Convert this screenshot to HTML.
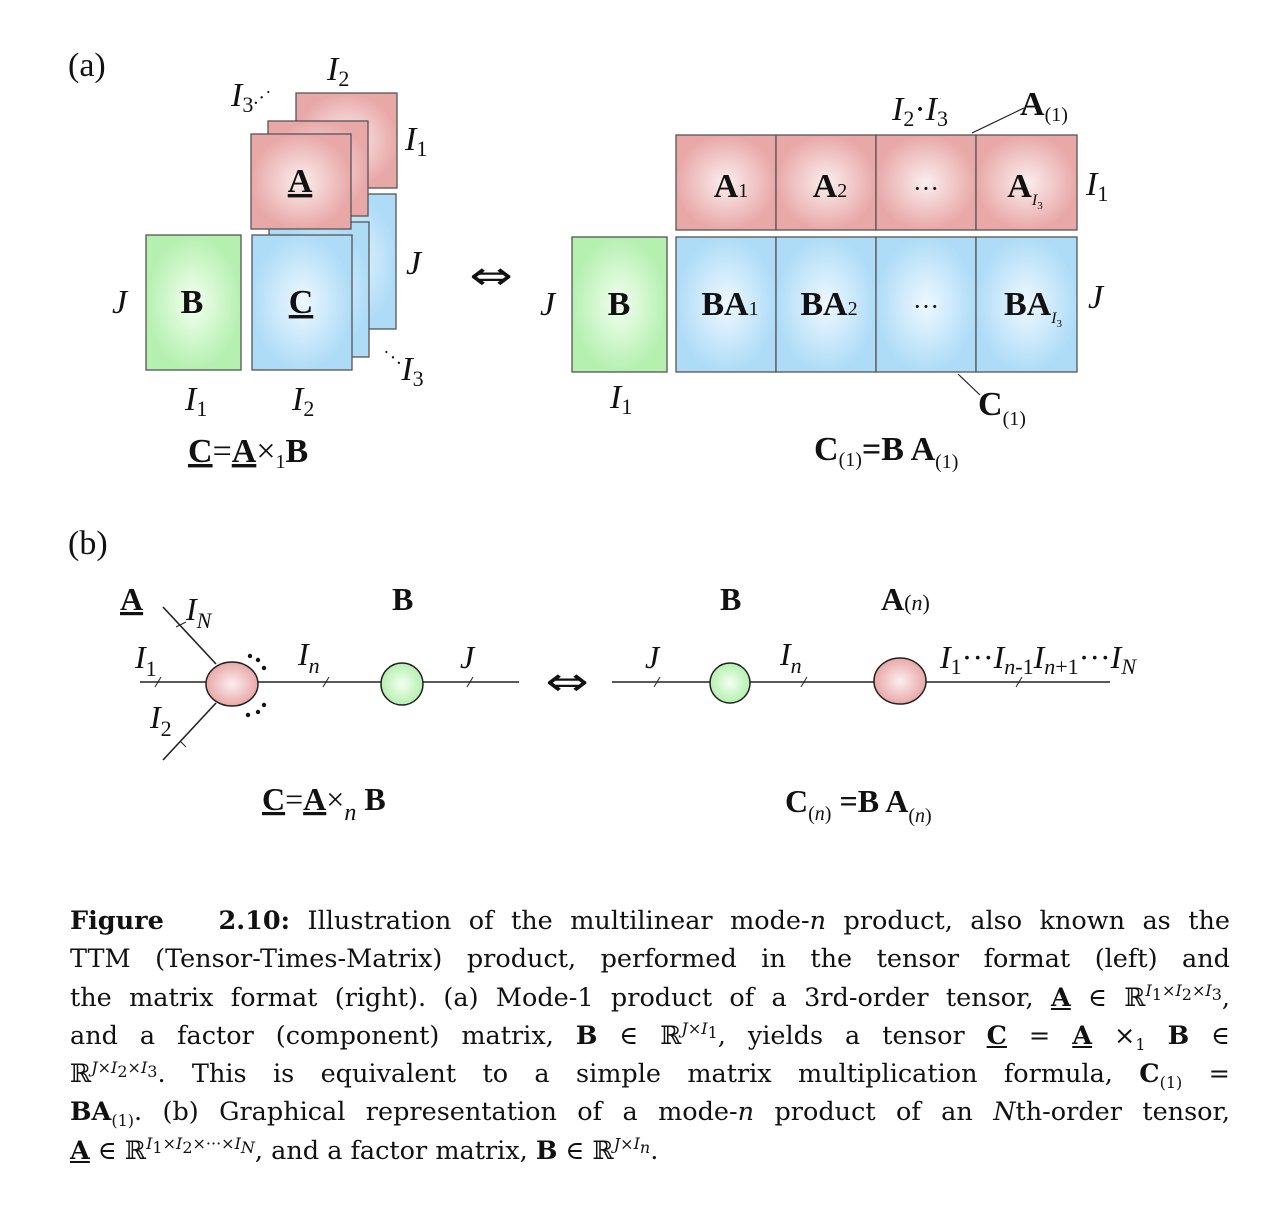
<!DOCTYPE html>
<html><head><meta charset="utf-8"><style>
body{margin:0;background:#fff;width:1276px;height:1208px;position:relative;overflow:hidden;font-family:"Liberation Serif",serif}
svg{position:absolute;left:0;top:0}
.cap{position:absolute;left:70px;width:1160px;font-family:"DejaVu Serif",serif;font-size:25.5px;line-height:38.3px;color:#111}
.cap div{text-align:justify;text-align-last:justify;white-space:nowrap;height:38.3px}
.cap div.last{text-align-last:left}
sup,sub{font-size:16px;line-height:0}
i{font-style:italic}
</style></head><body>
<svg width="1276" height="900" viewBox="0 0 1276 900" font-family="Liberation Serif, serif">
<defs>
<radialGradient id="pk"><stop offset="0" stop-color="#fbeeee"/><stop offset="1" stop-color="#e9a8a8"/></radialGradient>
<radialGradient id="bl"><stop offset="0" stop-color="#eef8ff"/><stop offset="1" stop-color="#aedcf7"/></radialGradient>
<radialGradient id="gr"><stop offset="0" stop-color="#f3fff0"/><stop offset="1" stop-color="#b5f0b0"/></radialGradient>
</defs>
<g font-size="34" fill="#111">
<text x="68" y="76">(a)</text>
<text x="68" y="554">(b)</text>
</g>
<g stroke="#555" stroke-width="1.3">
<rect x="296" y="194" width="100" height="135" fill="url(#bl)"/>
<rect x="269" y="222" width="100" height="135" fill="url(#bl)"/>
<rect x="296" y="93" width="101" height="95" fill="url(#pk)"/>
<rect x="268" y="121" width="100" height="95" fill="url(#pk)"/>
<rect x="251" y="134" width="100" height="95" fill="url(#pk)"/>
<rect x="252" y="235" width="100" height="135" fill="url(#bl)"/>
<rect x="146" y="235" width="95" height="135" fill="url(#gr)"/>
<rect x="572" y="237" width="95" height="135" fill="url(#gr)"/>
<rect x="676" y="135" width="100" height="95" fill="url(#pk)"/>
<rect x="776" y="135" width="100" height="95" fill="url(#pk)"/>
<rect x="876" y="135" width="100" height="95" fill="url(#pk)"/>
<rect x="976" y="135" width="101" height="95" fill="url(#pk)"/>
<rect x="676" y="237" width="100" height="135" fill="url(#bl)"/>
<rect x="776" y="237" width="100" height="135" fill="url(#bl)"/>
<rect x="876" y="237" width="100" height="135" fill="url(#bl)"/>
<rect x="976" y="237" width="101" height="135" fill="url(#bl)"/>
</g>
<g stroke="#222" stroke-width="1.2">
<line x1="972" y1="133" x2="1024" y2="108"/>
<line x1="958" y1="374" x2="980" y2="395"/>
</g>
<g font-size="34" fill="#111" font-weight="bold" text-anchor="middle">
<text x="300" y="192" text-decoration="underline">A</text>
<text x="301" y="313" text-decoration="underline">C</text>
<text x="192" y="313">B</text>
<text x="619" y="315">B</text>
<text x="731" y="197">A<tspan font-size="20" font-weight="normal">1</tspan></text>
<text x="830" y="197">A<tspan font-size="20" font-weight="normal">2</tspan></text>
<text x="1025" y="197">A<tspan font-size="16" font-style="italic" font-weight="normal" dy="8">I</tspan><tspan font-size="11" font-weight="normal" dy="4">3</tspan></text>
<text x="730" y="315">BA<tspan font-size="20" font-weight="normal">1</tspan></text>
<text x="829" y="315">BA<tspan font-size="20" font-weight="normal">2</tspan></text>
<text x="1033" y="315">BA<tspan font-size="16" font-style="italic" font-weight="normal" dy="8">I</tspan><tspan font-size="11" font-weight="normal" dy="4">3</tspan></text>
<text x="926" y="197" font-weight="normal" font-size="26">···</text>
<text x="926" y="315" font-weight="normal" font-size="26">···</text>
</g>
<g font-size="34" fill="#111" font-style="italic">
<text x="327" y="80">I<tspan font-size="22" font-style="normal" dy="6">2</tspan></text>
<text x="231" y="106">I<tspan font-size="22" font-style="normal" dy="6">3</tspan><tspan font-style="normal" font-size="20" dy="-8">.·˙</tspan></text>
<text x="405" y="150">I<tspan font-size="22" font-style="normal" dy="6">1</tspan></text>
<text x="406" y="274">J</text>
<text x="112" y="313">J</text>
<text x="383" y="380"><tspan font-style="normal" font-size="20" dy="-16">˙·.</tspan><tspan dy="16">I</tspan><tspan font-size="22" font-style="normal" dy="6">3</tspan></text>
<text x="185" y="410">I<tspan font-size="22" font-style="normal" dy="6">1</tspan></text>
<text x="292" y="410">I<tspan font-size="22" font-style="normal" dy="6">2</tspan></text>
<text x="892" y="120">I<tspan font-size="22" font-style="normal" dy="6">2</tspan><tspan font-style="normal" dy="-6">·</tspan>I<tspan font-size="22" font-style="normal" dy="6">3</tspan></text>
<text x="1086" y="195">I<tspan font-size="22" font-style="normal" dy="6">1</tspan></text>
<text x="1088" y="308">J</text>
<text x="540" y="315">J</text>
<text x="610" y="408">I<tspan font-size="22" font-style="normal" dy="6">1</tspan></text>
</g>
<g font-size="34" fill="#111" font-weight="bold">
<text x="1020" y="115">A<tspan font-size="20" font-weight="normal" dy="6">(1)</tspan></text>
<text x="978" y="415">C<tspan font-size="20" font-weight="normal" dy="10">(1)</tspan></text>
<text x="188" y="462"><tspan text-decoration="underline">C</tspan><tspan font-weight="normal">=</tspan><tspan text-decoration="underline">A</tspan><tspan font-weight="normal">×</tspan><tspan font-weight="normal" font-size="20" dy="6">1</tspan><tspan dy="-6">B</tspan></text>
<text x="814" y="460">C<tspan font-size="20" font-weight="normal" dy="6">(1)</tspan><tspan dy="-6">=B A</tspan><tspan font-size="20" font-weight="normal" dy="8">(1)</tspan></text>
</g>
<text x="491" y="292" font-size="52" text-anchor="middle" fill="#111" font-family="DejaVu Sans, sans-serif" transform="translate(491 280) scale(1 0.75) translate(-491 -280)">⇔</text>
<text x="567" y="698" font-size="52" text-anchor="middle" fill="#111" font-family="DejaVu Sans, sans-serif" transform="translate(567 686) scale(1 0.75) translate(-567 -686)">⇔</text>
<g stroke="#222" stroke-width="1.6" fill="none">
<line x1="140" y1="682" x2="519" y2="682"/>
<line x1="163" y1="607" x2="216" y2="664"/>
<line x1="163" y1="760" x2="216" y2="703"/>
<line x1="612" y1="682" x2="1110" y2="682"/>
</g>
<g stroke="#222" stroke-width="1" fill="none">
<line x1="155" y1="687" x2="161" y2="677"/>
<line x1="323" y1="687" x2="329" y2="677"/>
<line x1="467" y1="687" x2="473" y2="677"/>
<line x1="176" y1="627" x2="186" y2="622"/>
<line x1="180" y1="741" x2="186" y2="747"/>
<line x1="654" y1="687" x2="660" y2="677"/>
<line x1="801" y1="687" x2="807" y2="677"/>
<line x1="1016" y1="687" x2="1022" y2="677"/>
</g>
<g stroke="#222" stroke-width="1.5">
<ellipse cx="232" cy="684" rx="26" ry="22" fill="url(#pk)"/>
<circle cx="402" cy="684" r="21" fill="url(#gr)"/>
<circle cx="730" cy="683" r="20" fill="url(#gr)"/>
<ellipse cx="900" cy="681" rx="26" ry="23" fill="url(#pk)"/>
</g>
<g fill="#111">
<circle cx="250" cy="656" r="2.2"/><circle cx="258" cy="660" r="2.2"/><circle cx="264" cy="668" r="2.2"/>
<circle cx="264" cy="705" r="2.2"/><circle cx="258" cy="712" r="2.2"/><circle cx="248" cy="715" r="2.2"/>
</g>
<g font-size="32" fill="#111" font-weight="bold">
<text x="120" y="610" text-decoration="underline">A</text>
<text x="392" y="610">B</text>
<text x="720" y="610">B</text>
<text x="881" y="610">A<tspan font-size="22" font-weight="normal">(<tspan font-style="italic">n</tspan>)</tspan></text>
<text x="262" y="810"><tspan text-decoration="underline">C</tspan><tspan font-weight="normal">=</tspan><tspan text-decoration="underline">A</tspan><tspan font-weight="normal">×</tspan><tspan font-weight="normal" font-style="italic" font-size="24" dy="10">n</tspan><tspan dy="-10"> B</tspan></text>
<text x="785" y="812">C<tspan font-size="20" font-weight="normal" dy="8">(<tspan font-style="italic">n</tspan>)</tspan><tspan dy="-8"> =B A</tspan><tspan font-size="20" font-weight="normal" dy="10">(<tspan font-style="italic">n</tspan>)</tspan></text>
</g>
<g font-size="32" fill="#111" font-style="italic">
<text x="186" y="620">I<tspan font-size="22" dy="8">N</tspan></text>
<text x="135" y="668">I<tspan font-size="22" font-style="normal" dy="8">1</tspan></text>
<text x="150" y="728">I<tspan font-size="22" font-style="normal" dy="8">2</tspan></text>
<text x="298" y="665">I<tspan font-size="22" dy="8">n</tspan></text>
<text x="460" y="668">J</text>
<text x="645" y="668">J</text>
<text x="780" y="665">I<tspan font-size="22" dy="8">n</tspan></text>
<text x="940" y="668">I<tspan font-size="22" font-style="normal" dy="6">1</tspan><tspan font-style="normal" dy="-6">···</tspan>I<tspan font-size="22" dy="6">n</tspan><tspan font-size="22" font-style="normal">-1</tspan><tspan dy="-6">I</tspan><tspan font-size="22" dy="6">n</tspan><tspan font-size="22" font-style="normal">+1</tspan><tspan font-style="normal" dy="-6">···</tspan>I<tspan font-size="22" dy="6">N</tspan></text>
</g>
</svg>
<div class="cap" style="top:902px">
<div><b>Figure&nbsp;&nbsp;&nbsp;2.10:</b> Illustration of the multilinear mode-<i>n</i> product, also known as the</div>
<div>TTM (Tensor-Times-Matrix) product, performed in the tensor format (left) and</div>
<div>the matrix format (right). (a) Mode-1 product of a 3rd-order tensor, <b><u>A</u></b> ∈ ℝ<sup><i>I</i><sub>1</sub>×<i>I</i><sub>2</sub>×<i>I</i><sub>3</sub></sup>,</div>
<div>and a factor (component) matrix, <b>B</b> ∈ ℝ<sup><i>J</i>×<i>I</i><sub>1</sub></sup>, yields a tensor <b><u>C</u></b> = <b><u>A</u></b> ×<sub>1</sub> <b>B</b> ∈</div>
<div>ℝ<sup><i>J</i>×<i>I</i><sub>2</sub>×<i>I</i><sub>3</sub></sup>. This is equivalent to a simple matrix multiplication formula, <b>C</b><sub>(1)</sub> =</div>
<div><b>BA</b><sub>(1)</sub>. (b) Graphical representation of a mode-<i>n</i> product of an <i>N</i>th-order tensor,</div>
<div class="last"><b><u>A</u></b> ∈ ℝ<sup><i>I</i><sub>1</sub>×<i>I</i><sub>2</sub>×···×<i>I<sub>N</sub></i></sup>, and a factor matrix, <b>B</b> ∈ ℝ<sup><i>J</i>×<i>I<sub>n</sub></i></sup>.</div>
</div>
</body></html>
